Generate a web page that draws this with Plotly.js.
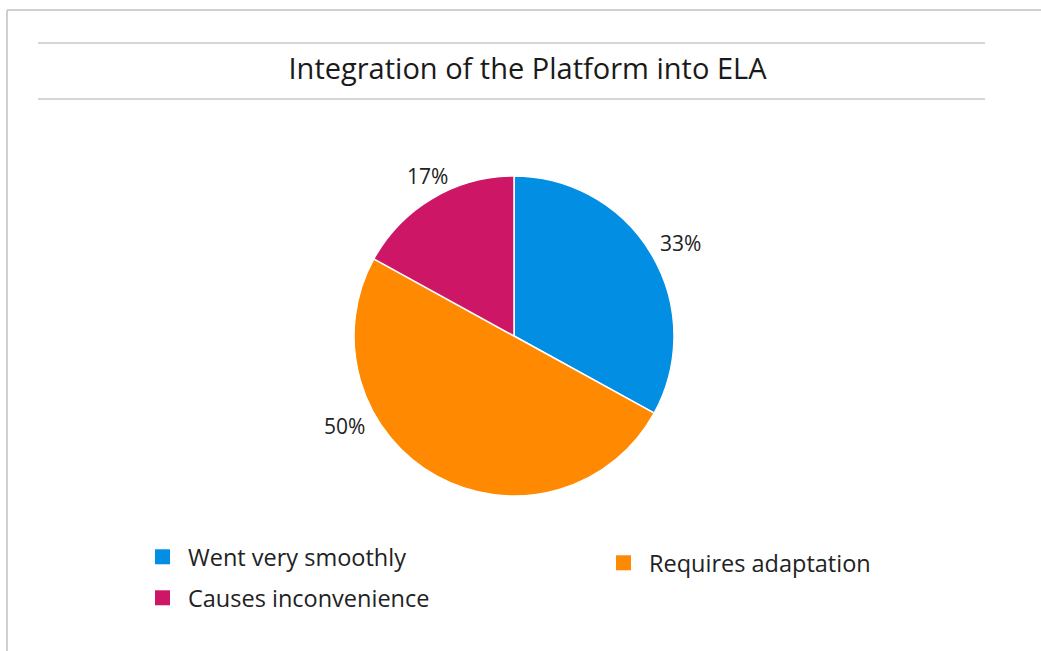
<!DOCTYPE html>
<html><head><meta charset="utf-8">
<script src="https://cdn.plot.ly/plotly-3.0.1.min.js"></script>
<style>html,body{margin:0;padding:0;background:#fff}#chart{width:1041px;height:651px}</style>
</head><body><div id="chart"></div>
<script>
const categories = ['Went very smoothly', 'Requires adaptation', 'Causes inconvenience'];
const shares = [33, 50, 17];
const colors = ['#028ee3', '#ff8900', '#cd1766'];
const titleText = 'Integration of the Platform into ELA';

const W = 1041, H = 651, L = 38, R = 51, T = 176, B = 155;
const pw = W - L - R, ph = H - T - B;
const px = x => (x - L) / pw;
const py = y => (H - B - y) / ph;
const FONT = '"Open Sans", Lato, sans-serif';

const pie = {
  type: 'pie',
  labels: categories,
  values: shares,
  sort: false,
  direction: 'clockwise',
  rotation: 0,
  marker: {colors: colors, line: {color: '#ffffff', width: 1.5}},
  textinfo: 'none',
  hoverinfo: 'none',
  showlegend: false
};

// percentage label placement (pixel centres), as in the reference
const labelPos = [[680, 243], [344, 426], [427, 176]];
const total = shares.reduce((a, b) => a + b, 0);
const labelAnns = shares.map((v, i) => ({
  xref: 'paper', yref: 'paper', x: px(labelPos[i][0]), y: py(labelPos[i][1]),
  xanchor: 'center', yanchor: 'middle', showarrow: false,
  text: Math.round(v / total * 100) + '%',
  font: {family: FONT, size: 21, color: '#222222'}
}));

const legendNames = ['legend', 'legend2', 'legend3'];
const legendPos = [[137, 557], [598, 563], [137, 598]];
const dummies = categories.map((c, i) => ({
  type: 'scatter', mode: 'markers', x: [null], y: [null], name: c,
  marker: {symbol: 'square', size: 15, color: colors[i]},
  legend: legendNames[i], showlegend: true, hoverinfo: 'none'
}));

const layout = {
  width: W, height: H,
  margin: {l: L, r: R, t: T, b: B, pad: 0},
  paper_bgcolor: '#ffffff', plot_bgcolor: '#ffffff',
  font: {family: FONT, color: '#222222'},
  title: {text: titleText, x: 527.5 / W, xref: 'container', xanchor: 'center',
          y: 1 - 69 / H, yref: 'container', yanchor: 'middle',
          font: {family: FONT, size: 29, color: '#1a1a1a'}},
  xaxis: {visible: false}, yaxis: {visible: false},
  annotations: labelAnns,
  shapes: [
    {type: 'line', xref: 'paper', yref: 'paper', x0: px(38), x1: px(985), y0: py(43), y1: py(43), line: {color: '#c8c8c8', width: 1.5}},
    {type: 'line', xref: 'paper', yref: 'paper', x0: px(38), x1: px(985), y0: py(99), y1: py(99), line: {color: '#c8c8c8', width: 1.5}},
    {type: 'line', xref: 'paper', yref: 'paper', x0: px(7), x1: px(1041), y0: py(10), y1: py(10), line: {color: '#d0d0d0', width: 2}},
    {type: 'line', xref: 'paper', yref: 'paper', x0: px(7), x1: px(7), y0: py(10), y1: py(651), line: {color: '#d0d0d0', width: 2}}
  ]
};
legendNames.forEach((n, i) => {
  layout[n] = {x: px(legendPos[i][0]), y: py(legendPos[i][1]), xanchor: 'left', yanchor: 'middle',
    orientation: 'v', bgcolor: 'rgba(0,0,0,0)', borderwidth: 0, itemwidth: 41,
    font: {family: FONT, size: 23.5, color: '#222222'}};
});

Plotly.newPlot('chart', [pie].concat(dummies), layout, {displayModeBar: false, staticPlot: true});
</script>
</body></html>
